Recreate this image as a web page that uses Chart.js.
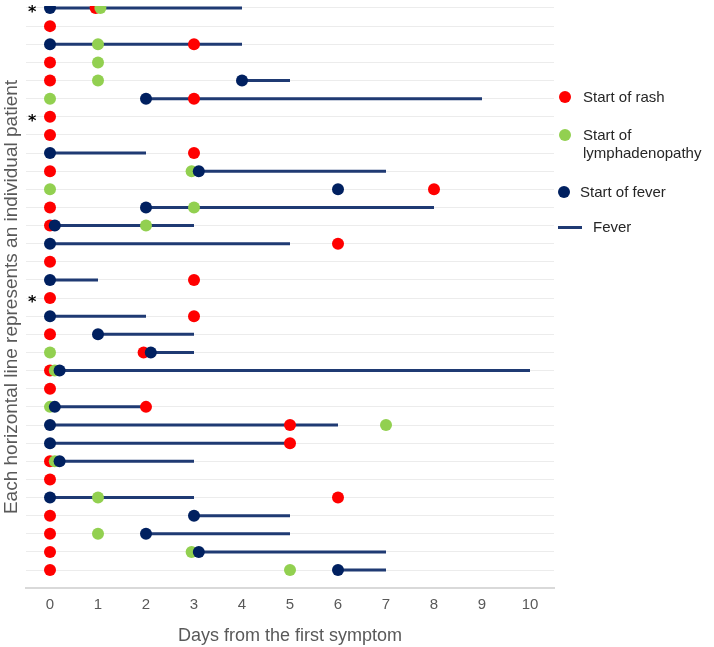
<!DOCTYPE html>
<html>
<head>
<meta charset="utf-8">
<script src="https://cdn.jsdelivr.net/npm/chart.js@4.4.1/dist/chart.umd.min.js"></script>
<style>
    body { margin: 0; background: #fff; font-family: "Liberation Sans", Arial, sans-serif; }
    #wrap { position: relative; width: 714px; height: 647px; }
    #patientChart { position: absolute; left: 0; top: 0; }
    .leg { position: absolute; font-size: 15px; color: #262626; line-height: 18px; white-space: nowrap; }
    .dot { position: absolute; width: 12px; height: 12px; border-radius: 50%; }
    .bar { position: absolute; width: 24px; height: 3px; background: #1f3a73; }
</style>
</head>
<body>
<div id="wrap">
    <canvas id="patientChart" width="714" height="647"></canvas>
    <div class="dot" style="left:559px;top:91px;background:#ff0000"></div>
    <div class="leg" style="left:583px;top:88px">Start of rash</div>
    <div class="dot" style="left:559px;top:129px;background:#92d050"></div>
    <div class="leg" style="left:583px;top:126px">Start of<br>lymphadenopathy</div>
    <div class="dot" style="left:558px;top:186px;background:#002060"></div>
    <div class="leg" style="left:580px;top:183px">Start of fever</div>
    <div class="bar" style="left:558px;top:226px"></div>
    <div class="leg" style="left:593px;top:218px">Fever</div>
</div>
<script>
// one entry per patient, top row first (days from the first symptom)
const patients = [1, 2, 3, 4, 5, 6, 7, 8, 9, 10, 11, 12, 13, 14, 15, 16,
                  17, 18, 19, 20, 21, 22, 23, 24, 25, 26, 27, 28, 29, 30, 31, 32];
const starred = [1, 7, 17];
const rashDay = [0.95, 0, 3, 0, 0, 3, 0, 0, 3, 0, 8, 0, 0, 6, 0, 3,
                 0, 3, 0, 1.95, 0, 0, 2, 5, 5, 0, 0, 6, 0, 0, 0, 0];
const lymphDay = [1.05, null, 1, 1, 1, 0, null, null, null, 2.95, 0, 3, 2, null, null, null,
                  null, null, null, 0, 0.1, null, 0, 7, null, 0.1, null, 1, null, 1, 2.95, 5];
const feverStart = [0, null, 0, null, 4, 2, null, null, 0, 3.1, 6, 2, 0.1, 0, null, 0,
                    null, 0, 1, 2.1, 0.2, null, 0.1, 0, 0, 0.2, null, 0, 3, 2, 3.1, 6];
const feverEnd = [4, null, 4, null, 5, 9, null, null, 2, 7, null, 8, 3, 5, null, 1,
                  null, 2, 3, 3, 10, null, 2, 6, 5, 3, null, 3, 5, 5, 7, 7];
const dayTicks = [0, 1, 2, 3, 4, 5, 6, 7, 8, 9, 10];

function toPoints(days) {
    const pts = [];
    days.forEach((d, i) => {
        if (d !== null) pts.push({x: d, y: patients[i]});
    });
    return pts;
}

function feverSegments() {
    const pts = [];
    patients.forEach((p, i) => {
        if (feverStart[i] !== null && feverEnd[i] !== null) {
            pts.push({x: feverStart[i], y: p}, {x: feverEnd[i], y: p}, {x: null, y: null});
        }
    });
    return pts;
}

function dotSet(label, data, color, order) {
    return {
        type: 'scatter',
        label: label,
        data: data,
        backgroundColor: color,
        borderWidth: 0,
        pointRadius: 6,
        pointHoverRadius: 6,
        order: order
    };
}

function renderPatientChart() {
    const ctx = document.getElementById('patientChart');
    const grey = '#595959';
    new Chart(ctx.getContext('2d'), {
        type: 'scatter',
        data: {
            datasets: [
                dotSet('Start of fever', toPoints(feverStart), '#002060', 0),
                dotSet('Start of lymphadenopathy', toPoints(lymphDay), '#92d050', 1),
                dotSet('Start of rash', toPoints(rashDay), '#ff0000', 2),
                {
                    type: 'scatter',
                    label: 'Fever',
                    data: feverSegments(),
                    showLine: true,
                    spanGaps: false,
                    borderColor: '#1f3a73',
                    borderWidth: 3,
                    pointRadius: 0,
                    pointHoverRadius: 0,
                    order: 3
                }
            ]
        },
        options: {
            responsive: false,
            animation: false,
            layout: { padding: { left: 0, right: 160, top: 0, bottom: 0 } },
            plugins: {
                legend: { display: false },
                tooltip: { enabled: false }
            },
            scales: {
                x: {
                    type: 'linear',
                    min: -0.5,
                    max: 10.5,
                    afterBuildTicks: (scale) => {
                        scale.ticks = dayTicks.map(v => ({value: v}));
                    },
                    afterFit: (scale) => { scale.height = 59; },
                    grid: { display: false, drawTicks: false },
                    border: { color: '#d9d9d9', width: 2 },
                    ticks: { color: grey, padding: 8, autoSkip: false, font: { family: 'Liberation Sans', size: 15 } },
                    title: {
                        display: true,
                        text: 'Days from the first symptom',
                        color: grey,
                        padding: { top: 0, bottom: 0 },
                        font: { family: 'Liberation Sans', size: 18 }
                    }
                },
                y: {
                    type: 'linear',
                    reverse: true,
                    min: 0.89,
                    max: 32.99,
                    afterBuildTicks: (scale) => {
                        scale.ticks = patients.map(v => ({value: v}));
                    },
                    afterFit: (scale) => { scale.width = 26; },
                    grid: { color: '#ececec', lineWidth: 1, drawTicks: false },
                    border: { display: false },
                    ticks: {
                        color: '#000',
                        mirror: true,
                        padding: 2,
                        labelOffset: 5,
                        autoSkip: false,
                        font: { family: 'DejaVu Sans', size: 16, weight: 'bold', lineHeight: 0.5 },
                        callback: (value) => starred.includes(value) ? '*' : ''
                    },
                    title: {
                        display: true,
                        text: 'Each horizontal line represents an individual patient',
                        color: grey,
                        padding: { top: 0, bottom: 0 },
                        font: { family: 'Liberation Sans', size: 19 }
                    }
                }
            }
        }
    });
}

renderPatientChart();
</script>
</body>
</html>
